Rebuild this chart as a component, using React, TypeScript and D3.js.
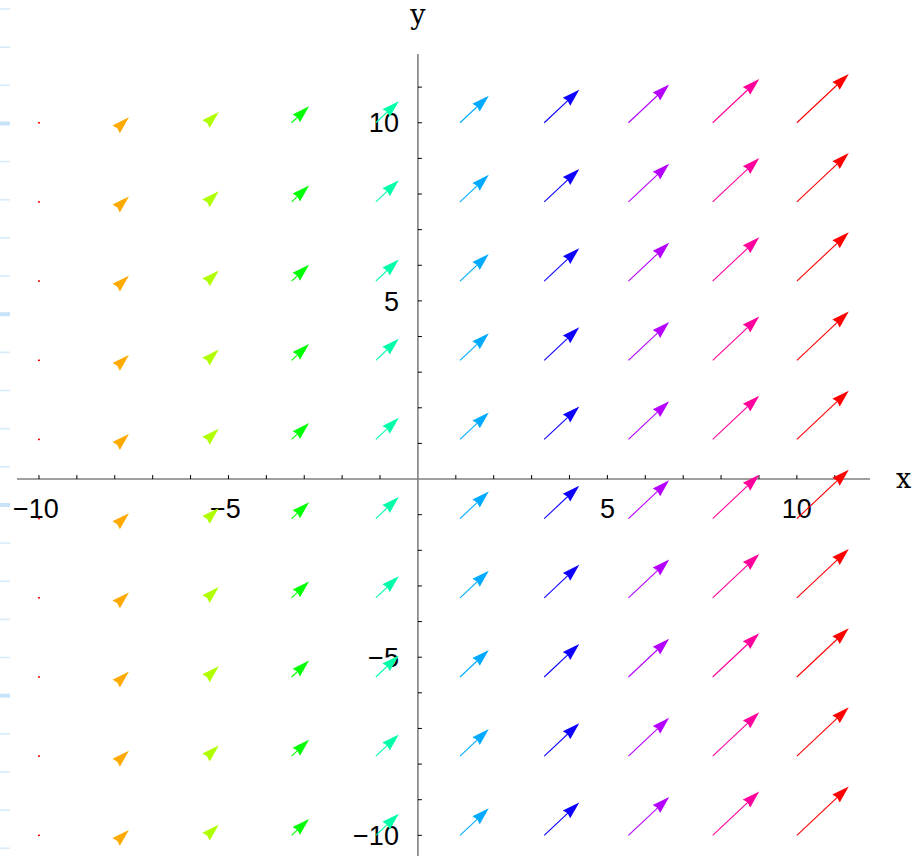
import React from 'react';
import * as d3 from 'd3';

// Sample grid of the vector field (10 x 10 base points)
const gridX = [-10, -7.778, -5.556, -3.333, -1.111, 1.111, 3.333, 5.556, 7.778, 10];
const gridY = [-10, -7.778, -5.556, -3.333, -1.111, 1.111, 3.333, 5.556, 7.778, 10];

// Drawn arrow components per column (the field depends on x only)
const fieldU = [0, 0.152, 0.3, 0.46, 0.607, 0.76, 0.925, 1.075, 1.23, 1.37];
const fieldV = [0, 0.152, 0.3, 0.46, 0.607, 0.76, 0.925, 1.075, 1.23, 1.37];

// Axis ticks
const xTickLabels = [-10, -5, 5, 10];
const yTickLabels = [-10, -5, 5, 10];
const minorTickValues = [-10, -9, -8, -7, -6, -5, -4, -3, -2, -1, 1, 2, 3, 4, 5, 6, 7, 8, 9, 10, 11];

const W = 913;
const H = 856;
const domain: [number, number] = [-10.58, 11.93];

const HEAD_LEN = 17.5;
const HEAD_HALF = 5.4;
const HEAD_NOTCH = 1.5;

const fmt = (v: number) => (v < 0 ? '\u2212' + Math.abs(v) : String(v));

export default function App() {
  const x = d3.scaleLinear().domain(domain).range([17, 870]);
  const y = d3.scaleLinear().domain(domain).range([856, 54]);
  const x0 = x(0);
  const y0 = y(0);

  const mags = fieldU.map((u, i) => Math.hypot(u, fieldV[i]));
  const maxMag = d3.max(mags) as number;
  const hue = d3.scaleLinear().domain([0, maxMag]).range([0, 360]);
  const colorOf = (i: number) => d3.hsl(hue(mags[i]), 1, 0.5).formatHex();

  // faint ruler marks along the left edge
  const ruler = d3.range(0, 23).map((k) => ({ y: 9 + 38.15 * k, thick: k % 5 === 3 }));

  const arrows: React.ReactNode[] = [];
  gridX.forEach((gx, i) => {
    const col = colorOf(i);
    gridY.forEach((gy, j) => {
      const bx = x(gx);
      const by = y(gy);
      const tx = x(gx + fieldU[i]);
      const ty = y(gy + fieldV[i]);
      const dx = tx - bx;
      const dy = ty - by;
      const len = Math.hypot(dx, dy);
      const key = `${i}-${j}`;
      if (len < 0.5) {
        arrows.push(
          <rect key={key} x={bx - 1} y={by - 0.75} width={2} height={1.5} fill={col} />
        );
        return;
      }
      const ux = dx / len;
      const uy = dy / len;
      const px = -uy;
      const py = ux;
      const backX = tx - HEAD_LEN * ux;
      const backY = ty - HEAD_LEN * uy;
      const nX = tx - (HEAD_LEN - HEAD_NOTCH) * ux;
      const nY = ty - (HEAD_LEN - HEAD_NOTCH) * uy;
      const head = d3.path();
      head.moveTo(tx, ty);
      head.lineTo(backX + HEAD_HALF * px, backY + HEAD_HALF * py);
      head.lineTo(nX, nY);
      head.lineTo(backX - HEAD_HALF * px, backY - HEAD_HALF * py);
      head.closePath();
      arrows.push(
        <g key={key}>
          <line x1={bx} y1={by} x2={tx - 3 * ux} y2={ty - 3 * uy} stroke={col} strokeWidth={1.1} />
          <path d={head.toString()} fill={col} />
        </g>
      );
    });
  });

  return (
    <svg
      width={W}
      height={H}
      style={{ position: 'absolute', left: 0, top: 0, background: '#fff' }}
    >
      <rect width={W} height={H} fill="#fff" />
      {ruler.map((r, k) => (
        <rect
          key={k}
          x={0}
          y={r.y - (r.thick ? 2 : 0.8)}
          width={10}
          height={r.thick ? 4 : 1.6}
          fill={r.thick ? '#c6e3fa' : '#d6ebfb'}
        />
      ))}

      {/* axes */}
      <line x1={17} y1={y0} x2={870} y2={y0} stroke="#808080" strokeWidth={1.6} />
      <line x1={x0} y1={54} x2={x0} y2={H} stroke="#808080" strokeWidth={1.6} />
      {minorTickValues.map((v) => (
        <line key={`xt${v}`} x1={x(v)} y1={y0 - 4} x2={x(v)} y2={y0} stroke="#000" strokeWidth={1} />
      ))}
      {minorTickValues.map((v) => (
        <line key={`yt${v}`} x1={x0} y1={y(v)} x2={x0 + 4} y2={y(v)} stroke="#000" strokeWidth={1} />
      ))}
      <g fontFamily="'Liberation Sans', Arial, sans-serif" fontSize={27} fill="#000">
        {xTickLabels.map((v) => (
          <text key={`xl${v}`} x={x(v) - (v < 0 ? 3 : 0)} y={y0 + 39} textAnchor="middle">
            {fmt(v)}
          </text>
        ))}
        {yTickLabels.map((v) => (
          <text key={`yl${v}`} x={x0 - 19} y={y(v) + 9.7} textAnchor="end">
            {fmt(v)}
          </text>
        ))}
      </g>
      <g fontFamily="'DejaVu Serif', serif" fontSize={27} fill="#000">
        <text x={896} y={488}>x</text>
        <text x={x0} y={24} textAnchor="middle">y</text>
      </g>

      {arrows}
    </svg>
  );
}
